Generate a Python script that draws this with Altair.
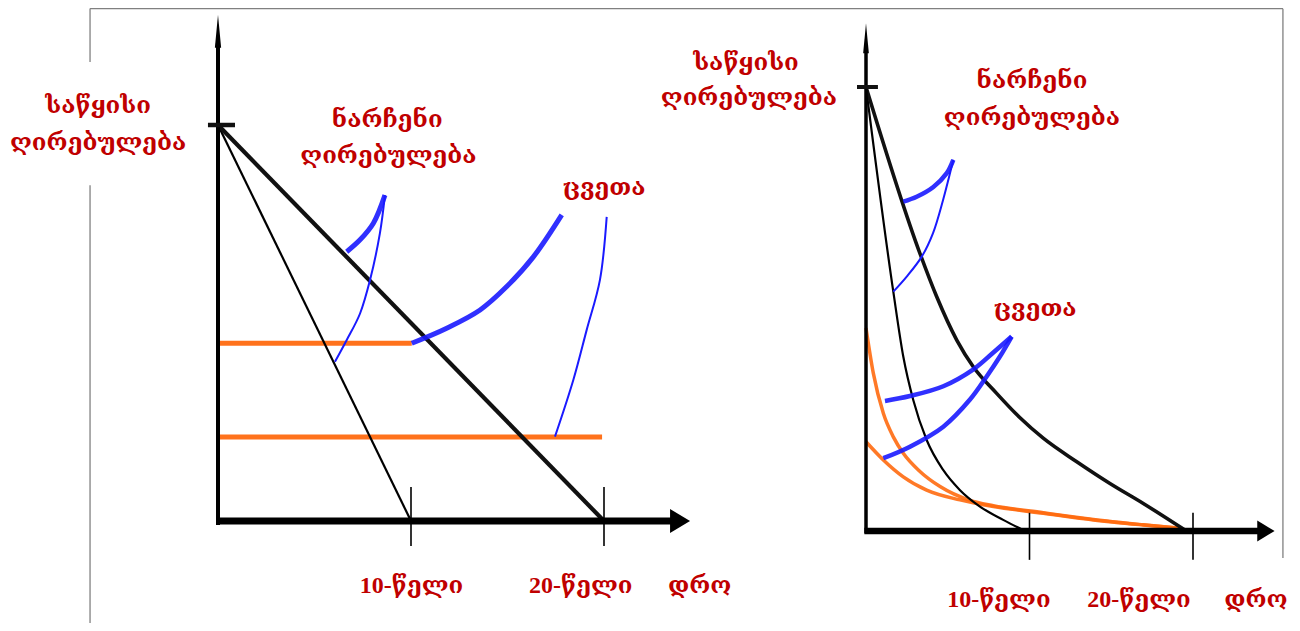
import altair as alt
import pandas as pd

# ---------------- values ----------------
INITIAL_VALUE = 100            # value at year 0 ("საწყისი ღირებულება")
USEFUL_LIVES = [10, 20]        # "10-წელი", "20-წელი"

# left panel: straight-line depreciation, orange = accumulated-wear levels
LEFT_WEAR_LEVELS = [44.9, 21.2]
LEFT_WEAR_ENDS = [10.04, 19.9]

# left panel pointer curves (year, value)
L_RESID_THICK_X = [6.67, 7.36, 8.05, 8.65]
L_RESID_THICK_Y = [68.0, 71.0, 75.2, 82.3]
L_RESID_THIN_X = [8.65, 8.39, 7.88, 7.36, 6.67, 6.06]
L_RESID_THIN_Y = [82.3, 72.7, 60.9, 52.4, 45.7, 40.2]
L_WEAR_THICK_X = [10.04, 11.85, 13.58, 14.96, 16.34, 17.81]
L_WEAR_THICK_Y = [44.9, 48.7, 53.3, 59.2, 66.7, 77.3]
L_WEAR_THIN_X = [20.14, 19.79, 19.10, 18.41, 17.46]
L_WEAR_THIN_Y = [76.8, 60.9, 48.2, 35.6, 21.3]

# right panel: accelerated depreciation curves (year, value)
R_FAST_X = [0, 1.67, 2.28, 2.89, 3.71, 4.73, 5.75, 6.97, 8.39, 9.62]
R_FAST_Y = [100, 53.9, 39.3, 29.5, 20.5, 13.7, 9.2, 5.5, 2.5, 0.2]
R_SLOW_X = [0, 3.30, 4.32, 5.55, 6.56, 7.99, 9.42, 10.84, 12.89, 14.92, 16.96, 19.51]
R_SLOW_Y = [100, 62.5, 52.8, 43.0, 37.0, 31.0, 25.5, 20.9, 15.6, 10.7, 6.2, 0.2]
R_WEAR1_X = [0, 0.45, 1.06, 1.67, 2.28, 3.30, 4.53, 6.36, 7.79, 10.85, 13.91, 16.96, 19.2]
R_WEAR1_Y = [45.7, 35.5, 26.5, 21.2, 17.5, 13.4, 10.0, 6.9, 5.7, 4.1, 2.6, 1.4, 0.6]
R_WEAR2_X = [0, 1.06, 2.28, 3.71, 5.75, 7.79, 10.85, 13.91, 16.96, 19.2]
R_WEAR2_Y = [20.1, 16.0, 12.2, 9.2, 7.0, 5.5, 4.0, 2.5, 1.35, 0.6]

# right panel pointer curves
R_RESID_THICK_X = [2.28, 3.10, 4.12, 4.94, 5.34]
R_RESID_THICK_Y = [74.2, 75.3, 77.5, 80.6, 83.6]
R_RESID_THIN_X = [5.34, 4.71, 4.10, 3.41, 2.49, 1.67]
R_RESID_THIN_Y = [83.6, 74.5, 67.1, 61.8, 57.3, 53.9]
R_WEAR_PTR1_X = [1.16, 2.69, 4.73, 6.57, 7.79, 8.91]
R_WEAR_PTR1_Y = [29.3, 30.4, 32.6, 36.4, 40.2, 43.8]
R_WEAR_PTR2_X = [1.06, 2.69, 4.73, 6.36, 7.38, 8.19, 8.91]
R_WEAR_PTR2_Y = [16.4, 19.0, 23.5, 29.6, 34.8, 39.3, 43.8]

# label texts
LBL_INITIAL = ["საწყისი", "ღირებულება"]
LBL_RESIDUAL = ["ნარჩენი", "ღირებულება"]
LBL_WEAR = "ცვეთა"
LBL_LIVES = ["10-წელი", "20-წელი"]
LBL_TIME = "დრო"

# ---------------- layout ----------------
W, H = 1284, 615
# left panel: year 0 at 210px, 19.3 px/year; value 0 at 513px, 3.96 px/unit
LX0, LSX, LY0, LSY = 210, 19.3, 513, 3.96
# right panel
RX0, RSX, RY0, RSY = 858, 16.35, 523, 4.44


def lin(d):
    return alt.Scale(domain=d, nice=False, zero=False)


LXS = lin([-LX0 / LSX, (W - LX0) / LSX])
LYS = lin([(LY0 - H) / LSY, LY0 / LSY])
RXS = lin([-RX0 / RSX, (W - RX0) / RSX])
RYS = lin([(RY0 - H) / RSY, RY0 / RSY])
PANELS = {"L": (LXS, LYS), "R": (RXS, RYS)}

RED = "#c00000"
BLUE = "#1a1aff"
ORANGE = "#ff6a10"
FONT = "Liberation Serif, DejaVu Serif"


def series_df(items):
    rows = []
    for k, (xs, ys) in enumerate(items):
        for i, (x, y) in enumerate(zip(xs, ys)):
            rows.append({"id": k, "i": i, "x": x, "y": y})
    return pd.DataFrame(rows)


def lines(panel, items, color, width, interp="linear", opacity=1.0):
    sx, sy = PANELS[panel]
    return alt.Chart(series_df(items)).mark_line(
        color=color, strokeWidth=width, interpolate=interp, opacity=opacity,
        strokeCap="butt", strokeJoin="round"
    ).encode(
        x=alt.X("x:Q", scale=sx, axis=None),
        y=alt.Y("y:Q", scale=sy, axis=None),
        detail="id:N",
        order="i:Q",
    )


def rules(panel, segs, color, width):
    sx, sy = PANELS[panel]
    df = pd.DataFrame(segs, columns=["x", "y", "x2", "y2"])
    return alt.Chart(df).mark_rule(color=color, strokeWidth=width, strokeCap="butt").encode(
        x=alt.X("x:Q", scale=sx, axis=None),
        y=alt.Y("y:Q", scale=sy, axis=None),
        x2="x2:Q",
        y2="y2:Q",
    )


def arrow(panel, x, y, shape, size):
    sx, sy = PANELS[panel]
    return alt.Chart(pd.DataFrame({"x": [x], "y": [y]})).mark_point(
        shape=shape, size=size, filled=True, color="black", opacity=1, strokeWidth=0
    ).encode(
        x=alt.X("x:Q", scale=sx, axis=None),
        y=alt.Y("y:Q", scale=sy, axis=None),
    )


def texts(panel, items, size=24):
    sx, sy = PANELS[panel]
    df = pd.DataFrame(items, columns=["x", "y", "t"])
    return alt.Chart(df).mark_text(
        font=FONT, fontSize=size, fontWeight="bold", color=RED,
        align="center", baseline="alphabetic"
    ).encode(
        x=alt.X("x:Q", scale=sx, axis=None),
        y=alt.Y("y:Q", scale=sy, axis=None),
        text="t:N",
    )


UP = "M0,-1 L0.19,1 L-0.19,1 Z"
RIGHT = "M1,0 L-1,-1.2 L-1,1.2 Z"

layers = []

# ---- frame lines ----
layers.append(rules("L", [
    [-6.63, 129.4, 55.18, 129.4],
    [-6.63, 129.4, -6.63, 115.9],
    [-6.63, 84.8, -6.63, -26],
], "#808080", 1.3))
layers.append(rules("R", [[25.5, 117.6, 25.5, -6.1]], "#808080", 1.3))

# ---- left panel ----
layers.append(lines("L", [([0.1, LEFT_WEAR_ENDS[k]], [LEFT_WEAR_LEVELS[k]] * 2) for k in range(2)],
                    ORANGE, 5, opacity=0.95))
layers.append(lines("L", [([0, USEFUL_LIVES[0]], [INITIAL_VALUE, 0])], "black", 2.2))
layers.append(lines("L", [([0, USEFUL_LIVES[1]], [INITIAL_VALUE, 0])], "#111111", 4.2))
layers.append(lines("L", [(L_RESID_THICK_X, L_RESID_THICK_Y), (L_WEAR_THICK_X, L_WEAR_THICK_Y)],
                    BLUE, 5, "catmull-rom", 0.9))
layers.append(lines("L", [(L_RESID_THIN_X, L_RESID_THIN_Y), (L_WEAR_THIN_X, L_WEAR_THIN_Y)],
                    BLUE, 2, "catmull-rom"))
# axes
layers.append(rules("L", [[0, -1, 0, 121.5]], "black", 4))
layers.append(rules("L", [[-0.1, 0, 23.7, 0]], "black", 7))
layers.append(rules("L", [[-0.52, INITIAL_VALUE, 0.88, INITIAL_VALUE]], "#111111", 4.5))
layers.append(rules("L", [[v, 8.6, v, -6.3] for v in USEFUL_LIVES], "black", 1.6))
layers.append(arrow("L", 0, 123.7, UP, 1090))
layers.append(arrow("L", 23.94, 0, RIGHT, 400))
layers.append(texts("L", [
    [-6.21, 103.0, LBL_INITIAL[0]], [-6.21, 93.7, LBL_INITIAL[1]],
    [8.77, 99.5, LBL_RESIDUAL[0]], [8.83, 90.4, LBL_RESIDUAL[1]],
    [20.0, 82.3, LBL_WEAR],
    [10.03, -18.2, LBL_LIVES[0]], [18.8, -18.2, LBL_LIVES[1]],
    [24.96, -18.2, LBL_TIME],
]))

# ---- right panel ----
layers.append(lines("R", [(R_WEAR1_X, R_WEAR1_Y), (R_WEAR2_X, R_WEAR2_Y)], ORANGE, 3.5, "monotone", 0.9))
layers.append(lines("R", [(R_FAST_X, R_FAST_Y)], "black", 2.2, "monotone"))
layers.append(lines("R", [(R_SLOW_X, R_SLOW_Y)], "#111111", 3.6, "monotone"))
layers.append(lines("R", [(R_RESID_THICK_X, R_RESID_THICK_Y), (R_WEAR_PTR1_X, R_WEAR_PTR1_Y),
                          (R_WEAR_PTR2_X, R_WEAR_PTR2_Y)], BLUE, 4.5, "catmull-rom", 0.9))
layers.append(lines("R", [(R_RESID_THIN_X, R_RESID_THIN_Y)], BLUE, 2, "catmull-rom"))
layers.append(rules("R", [[0, -0.5, 0, 109.5]], "black", 3.5))
layers.append(rules("R", [[-0.1, 0, 24.1, 0]], "black", 6.5))
layers.append(rules("R", [[-0.55, INITIAL_VALUE, 0.73, INITIAL_VALUE]], "#111111", 4))
layers.append(rules("R", [[v, 4.1, v, -6.5] for v in USEFUL_LIVES], "black", 1.6))
layers.append(arrow("R", 0, 111.0, UP, 900))
layers.append(arrow("R", 24.46, 0, RIGHT, 300))
layers.append(texts("R", [
    [-7.34, 103.8, LBL_INITIAL[0]], [-7.16, 95.9, LBL_INITIAL[1]],
    [10.15, 99.8, LBL_RESIDUAL[0]], [10.15, 91.4, LBL_RESIDUAL[1]],
    [10.34, 48.4, LBL_WEAR],
    [8.13, -17.1, LBL_LIVES[0]], [16.7, -17.1, LBL_LIVES[1]],
    [23.85, -17.1, LBL_TIME],
]))

chart = alt.layer(*layers).resolve_scale(
    x="independent", y="independent"
).properties(
    width=W, height=H, padding=0, autosize="none"
).configure_view(stroke=None)

chart.save("out.html", embed_options={"renderer": "svg", "actions": False})
